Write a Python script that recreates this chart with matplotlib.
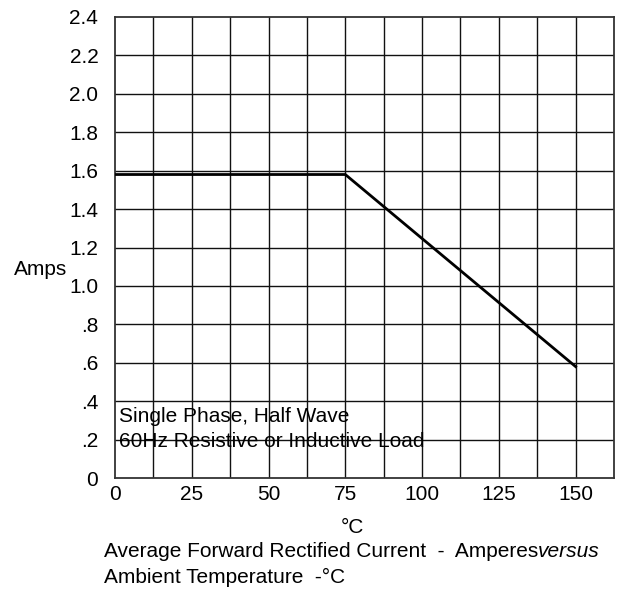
import matplotlib
matplotlib.use("Agg")
import matplotlib.pyplot as plt
import numpy as np

plt.rcParams['font.family'] = ['Liberation Sans', 'DejaVu Sans']

# derating curve: temperature (C) vs average forward current (A)
temp = [0, 75, 150]
amps = [1.58, 1.58, 0.58]

x_ticks = [0, 25, 50, 75, 100, 125, 150]
y_ticks = [0, 0.2, 0.4, 0.6, 0.8, 1.0, 1.2, 1.4, 1.6, 1.8, 2.0, 2.2, 2.4]
y_labels = ['0', '.2', '.4', '.6', '.8', '1.0', '1.2', '1.4', '1.6', '1.8', '2.0', '2.2', '2.4']

FS = 15

fig = plt.figure(figsize=(6.21, 5.92), dpi=100)
ax = fig.add_axes([115 / 621, 1 - 478 / 592, 499 / 621, 461 / 592])

# grid: 13 columns of 12.5 C, 12 rows of 0.2 A
for xv in np.arange(12.5, 162.5, 12.5):
    ax.axvline(xv, color='#111111', lw=1.0, zorder=1)
for yv in y_ticks[1:-1]:
    ax.axhline(yv, color='#111111', lw=1.0, zorder=1)

ax.plot(temp, amps, color='black', lw=2.0, zorder=3, solid_joinstyle='miter')

ax.set_xlim(0, 162.5)
ax.set_ylim(0, 2.4)
ax.set_xticks(x_ticks)
ax.set_yticks(y_ticks)
ax.set_yticklabels(y_labels)
ax.tick_params(axis='both', length=0, labelsize=FS)
ax.tick_params(axis='x', pad=5)
ax.tick_params(axis='y', pad=12)
for s in ax.spines.values():
    s.set_color('#333333')
    s.set_linewidth(1.3)

ax.text(1.3, 0.292, 'Single Phase, Half Wave', fontsize=FS, va='baseline', zorder=4)
ax.text(1.3, 0.161, '60Hz Resistive or Inductive Load', fontsize=FS, va='baseline', zorder=4)

fig.text(14 / 621, 1 - 275 / 592, 'Amps', fontsize=FS, va='baseline', ha='left')

# degree mark sits just above the first caption line
t1 = fig.text(104 / 621, 1 - 561 / 592, 'Average Forward Rectified Current  -  Amperes',
              fontsize=FS, va='bottom', ha='left')
ax.annotate('°C', xy=(352 / 621, 1 - 561 / 592), xycoords='figure fraction',
            xytext=(0, 17), textcoords='offset points', fontsize=FS,
            va='bottom', ha='center', annotation_clip=False)
fig.text(104 / 621, 1 - 583 / 592, 'Ambient Temperature  -°C', fontsize=FS,
         va='baseline', ha='left')
ax.annotate('versus', xy=(1, 0), xycoords=t1, va='bottom', ha='left',
            fontsize=FS, style='italic', annotation_clip=False)

fig.savefig('out.png', dpi=100)
